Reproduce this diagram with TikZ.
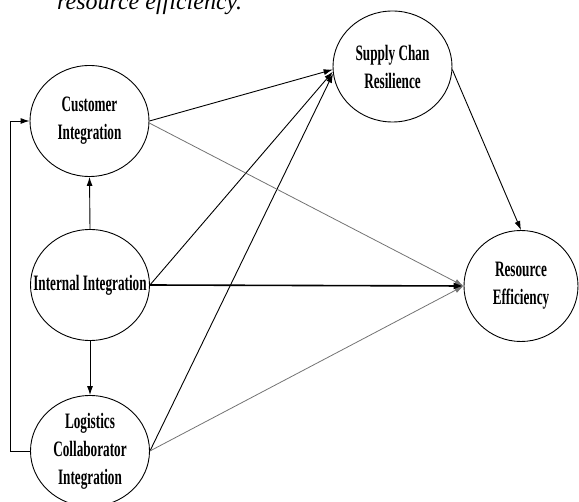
\documentclass[tikz,border=0pt]{standalone}
\usepackage{fontspec}
\setmainfont{Liberation Serif}
\newfontfamily\condb[FakeStretch=0.6]{Liberation Serif Bold}
\usetikzlibrary{shapes.geometric,arrows.meta}
\begin{document}
\begin{tikzpicture}[x=1pt,y=-1pt,
  var/.style={draw, line width=0.9pt, ellipse, inner sep=0pt,
    minimum width=119pt, minimum height=111pt},
  lab/.style={align=center, inner sep=0pt,
    font=\condb\fontsize{22}{28}\selectfont},
  arr/.style={line width=0.9pt, -{Latex[length=9pt,width=6pt]}},
  garr/.style={line width=0.8pt, draw=black!55, -{Latex[length=9pt,width=6pt]}},
  tarr/.style={line width=1.6pt, -{Latex[length=10pt,width=7pt]}}]
\useasboundingbox (0,0) rectangle (579,502);
\node[anchor=base west, inner sep=0pt, font=\fontsize{24}{28}\selectfont\itshape] (cap) at (57,10) {resource efficiency.};
\node[var, label={[lab]center:Customer\\Integration}] (C) at (89.5,121) {};
\node[var, label={[lab]center:Internal Integration}] (I) at (90,285) {};
\node[var, label={[lab]center:Logistics\\Collaborator\\Integration}] (L) at (90,451) {};
\node[var, label={[lab]center:Supply Chan\\Resilience}] (S) at (392.5,66.5) {};
\node[var, minimum width=114pt, label={[lab]center:Resource\\Efficiency}] (R) at (521,286) {};
\draw[arr] (I.north) -- (C.south);
\draw[arr] (I.south) -- (L.north);
\draw[arr] (L.west) -- ++(-20,0) |- (C.west);
\draw[arr] (C.east) -- (S.183);
\draw[arr] (I.east) -- (S.185);
\draw[arr] (L.east) -- (S.187);
\draw[garr] (C.-2) -- (R.west);
\draw[garr] (L.east) -- (R.west);
\draw[tarr] (I.east) -- (R.west);
\draw[arr] (S.-3) -- (R.north);
\end{tikzpicture}
\end{document}
